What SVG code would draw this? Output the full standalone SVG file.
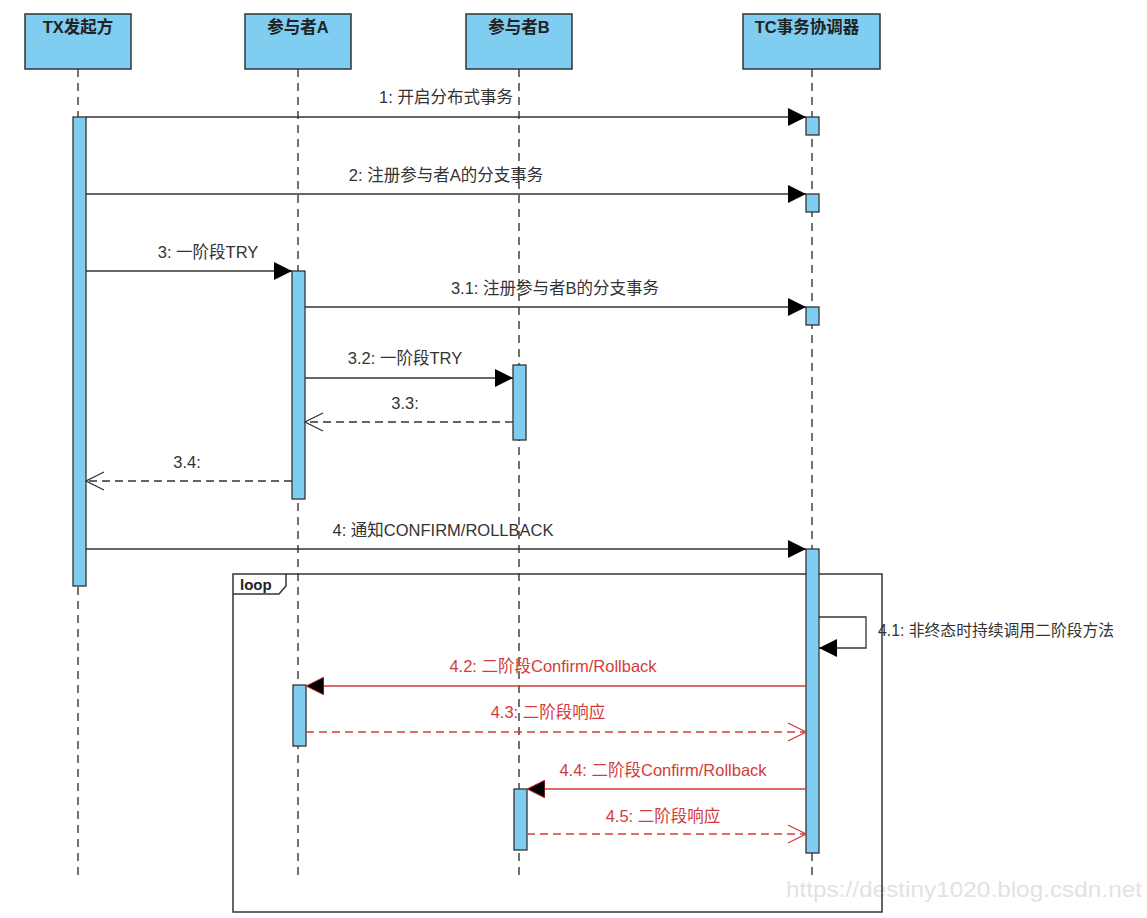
<svg xmlns="http://www.w3.org/2000/svg" width="1147" height="918" viewBox="0 0 1147 918">
<style>
.box{fill:#7fcdf1;stroke:#333;stroke-width:1.5}
.hdr{font-family:"Liberation Sans","Noto Sans CJK SC",sans-serif;font-size:16.5px;font-weight:bold;fill:#222;text-anchor:middle}
.life{stroke:#444;stroke-width:1.5;stroke-dasharray:8 6;fill:none}
.bar{fill:#7fcdf1;stroke:#333;stroke-width:1.3}
.msg{stroke:#333;stroke-width:1.3;fill:none}
.ret{stroke:#333;stroke-width:1.3;fill:none;stroke-dasharray:8 5}
.rmsg{stroke:#d23c3c;stroke-width:1.3;fill:none}
.rret{stroke:#d23c3c;stroke-width:1.3;fill:none;stroke-dasharray:8 5}
.lbl{font-family:"Liberation Sans","Noto Sans CJK SC",sans-serif;font-size:16.5px;fill:#333;text-anchor:middle}
.rlbl{font-family:"Liberation Sans","Noto Sans CJK SC",sans-serif;font-size:16.5px;fill:#d23c3c;text-anchor:middle}
.frame{fill:none;stroke:#333;stroke-width:1.5}
</style>
<defs>
<marker id="fill" viewBox="0 0 18 18" refX="18" refY="9" markerWidth="18" markerHeight="18" markerUnits="userSpaceOnUse" orient="auto">
<path d="M0,0 L18,9 L0,18 Z" fill="#000"/>
</marker>
<marker id="rfill" viewBox="0 0 18 18" refX="18" refY="9" markerWidth="18" markerHeight="18" markerUnits="userSpaceOnUse" orient="auto">
<path d="M0,0 L18,9 L0,18 Z" fill="#000" stroke="#d23c3c" stroke-width="1"/>
</marker>
<marker id="open" viewBox="0 0 20 20" refX="19" refY="10" markerWidth="20" markerHeight="20" markerUnits="userSpaceOnUse" orient="auto">
<path d="M1,1 L19,10 L1,19" fill="none" stroke="#333" stroke-width="1.3"/>
</marker>
<marker id="ropen" viewBox="0 0 20 20" refX="19" refY="10" markerWidth="20" markerHeight="20" markerUnits="userSpaceOnUse" orient="auto">
<path d="M1,1 L19,10 L1,19" fill="none" stroke="#d23c3c" stroke-width="1.3"/>
</marker>
</defs>
<rect width="1147" height="918" fill="#fff"/>

<text x="964" y="897" font-family="Liberation Sans, sans-serif" font-size="22" fill="#e2e2e2" text-anchor="middle" textLength="356" lengthAdjust="spacingAndGlyphs">https://destiny1020.blog.csdn.net</text>

<g id="lifelines">
<line class="life" x1="78" y1="69" x2="78" y2="880"/>
<line class="life" x1="298" y1="69" x2="298" y2="880"/>
<line class="life" x1="519" y1="69" x2="519" y2="880"/>
<line class="life" x1="812" y1="69" x2="812" y2="880"/>
</g>

<g id="loop-frame">
<rect class="frame" x="233" y="574" width="649" height="338"/>
<path class="frame" d="M233,594 L279,594 L286,586 L286,574"/>
<text x="240" y="590" font-family="Liberation Sans, sans-serif" font-size="15" font-weight="bold" fill="#222">loop</text>
</g>

<g id="node-tx">
<rect class="box" x="25" y="14" width="106" height="55"/>
<text class="hdr" x="78" y="33">TX发起方</text>
</g>
<g id="node-a">
<rect class="box" x="245" y="14" width="106" height="55"/>
<text class="hdr" x="298" y="33">参与者A</text>
</g>
<g id="node-b">
<rect class="box" x="466" y="14" width="106" height="55"/>
<text class="hdr" x="519" y="33">参与者B</text>
</g>
<g id="node-tc">
<rect class="box" x="743" y="14" width="137" height="55"/>
<text class="hdr" x="807" y="33">TC事务协调器</text>
</g>

<g id="activations">
<rect class="bar" x="73" y="117" width="13" height="469"/>
<rect class="bar" x="806" y="117" width="13" height="18"/>
<rect class="bar" x="806" y="194" width="13" height="18"/>
<rect class="bar" x="292" y="271" width="13" height="228"/>
<rect class="bar" x="806" y="307" width="13" height="18"/>
<rect class="bar" x="513" y="365" width="13" height="75"/>
<rect class="bar" x="806" y="549" width="13" height="304"/>
<rect class="bar" x="293" y="685" width="13" height="61"/>
<rect class="bar" x="514" y="789" width="13" height="61"/>
</g>

<g id="connectors">
<line class="msg" x1="86" y1="117" x2="806" y2="117" marker-end="url(#fill)"/>
<text class="lbl" x="446" y="103">1: 开启分布式事务</text>

<line class="msg" x1="86" y1="194" x2="806" y2="194" marker-end="url(#fill)"/>
<text class="lbl" x="446" y="181">2: 注册参与者A的分支事务</text>

<line class="msg" x1="86" y1="271" x2="292" y2="271" marker-end="url(#fill)"/>
<text class="lbl" x="208" y="258">3: 一阶段TRY</text>

<line class="msg" x1="305" y1="307" x2="806" y2="307" marker-end="url(#fill)"/>
<text class="lbl" x="555" y="294">3.1: 注册参与者B的分支事务</text>

<line class="msg" x1="305" y1="378" x2="513" y2="378" marker-end="url(#fill)"/>
<text class="lbl" x="405" y="364">3.2: 一阶段TRY</text>

<line class="ret" x1="513" y1="422" x2="305" y2="422" marker-end="url(#open)"/>
<text class="lbl" x="405" y="409">3.3:</text>

<line class="ret" x1="292" y1="481" x2="86" y2="481" marker-end="url(#open)"/>
<text class="lbl" x="187" y="468">3.4:</text>

<line class="msg" x1="86" y1="549" x2="806" y2="549" marker-end="url(#fill)"/>
<text class="lbl" x="443" y="536">4: 通知CONFIRM/ROLLBACK</text>

<path class="msg" d="M819,617 L866,617 L866,648 L819,648" marker-end="url(#fill)"/>
<text class="lbl" x="878" y="636" style="text-anchor:start;font-size:15.8px">4.1: 非终态时持续调用二阶段方法</text>

<line class="rmsg" x1="806" y1="686" x2="306" y2="686" marker-end="url(#rfill)"/>
<text class="rlbl" x="553" y="672">4.2: 二阶段Confirm/Rollback</text>

<line class="rret" x1="306" y1="732" x2="806" y2="732" marker-end="url(#ropen)"/>
<text class="rlbl" x="548" y="718">4.3: 二阶段响应</text>

<line class="rmsg" x1="806" y1="789" x2="527" y2="789" marker-end="url(#rfill)"/>
<text class="rlbl" x="663" y="776">4.4: 二阶段Confirm/Rollback</text>

<line class="rret" x1="527" y1="834" x2="806" y2="834" marker-end="url(#ropen)"/>
<text class="rlbl" x="663" y="822">4.5: 二阶段响应</text>
</g>
</svg>
